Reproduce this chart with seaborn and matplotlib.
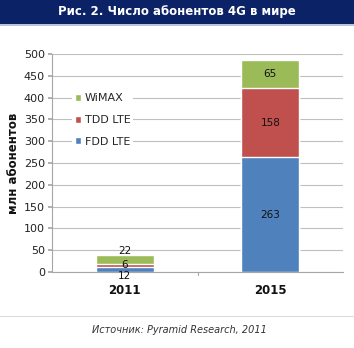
import matplotlib
matplotlib.use("Agg")
import matplotlib.pyplot as plt
import seaborn as sns
import pandas as pd
import numpy as np
from matplotlib.patches import Rectangle

years = ["2011", "2015"]
fdd_lte = [12, 263]
tdd_lte = [6, 158]
wimax = [22, 65]
series_names = ["FDD LTE", "TDD LTE", "WiMAX"]
colors = ["#4F81BD", "#C0504D", "#9BBB59"]
title = "Рис. 2. Число абонентов 4G в мире"
ylabel = "млн абонентов"
source = "Источник: Pyramid Research, 2011"

sns.set_theme(style="white")
plt.rcParams['font.family'] = ['DejaVu Sans']

fig = plt.figure(figsize=(3.54, 3.48), dpi=100)
# title bar
fig.patches.append(Rectangle((0, 1 - 24/348), 1, 24/348, transform=fig.transFigure,
                             facecolor="#0B2266", edgecolor="none", zorder=0))
fig.patches.append(Rectangle((0, 1 - 26/348), 1, 2/348, transform=fig.transFigure,
                             facecolor="#B8C4DD", edgecolor="none", zorder=0))
fig.text(0.5, 1 - 12/348, title, color="white", fontsize=8.5, fontweight="bold",
         ha="center", va="center")

ax = fig.add_axes([52/354, 1 - 272/348, 291/354, 218/348])

series = [fdd_lte, tdd_lte, wimax]
cum = np.cumsum(np.array(series), axis=0)
# draw tallest (cumulative) first so lower segments sit on top
for i in range(len(series) - 1, -1, -1):
    sns.barplot(x=years, y=cum[i], color=colors[i], width=0.4,
                ax=ax, saturation=1)

offsets_2011 = [-5, 0, 6]
bottoms = np.zeros(len(years))
for i, (vals, off) in enumerate(zip(series, offsets_2011)):
    for j, v in enumerate(vals):
        yc = bottoms[j] + v / 2
        dy = off if j == 0 else 0
        ax.annotate(str(v), (j, yc), xytext=(0, dy), textcoords="offset points",
                    ha="center", va="center", fontsize=7.5, color="#111111", zorder=20)
    bottoms = bottoms + np.array(vals)

ax.set_xlim(-0.5, 1.5)
ax.set_ylim(0, 500)
ax.set_yticks(range(0, 501, 50))
ax.yaxis.grid(True, color="#BFBFBF", linewidth=0.8)
ax.set_axisbelow(True)
for s in ["top", "right"]:
    ax.spines[s].set_visible(False)
for s in ["left", "bottom"]:
    ax.spines[s].set_color("#A6A6A6")
    ax.spines[s].set_linewidth(0.8)
ax.tick_params(axis="y", labelsize=8, colors="#A6A6A6", labelcolor="#222222",
               length=3, direction="out", left=True, pad=2)
ax.set_xticks([0, 1])
ax.set_xticklabels(years, fontweight="bold", fontsize=8.5, color="#111111")
ax.tick_params(axis="x", length=0, pad=9)
ax.plot([0.5, 0.5], [0, -8], color="#A6A6A6", lw=0.8, clip_on=False)
ax.set_xlabel("")
ax.set_ylabel(ylabel, fontsize=8.5, fontweight="bold", labelpad=3, color="#111111")

handles = [Rectangle((0, 0), 1, 1, facecolor=c) for c in colors]
leg = ax.legend(handles[::-1], series_names[::-1], loc="upper left",
                bbox_to_anchor=(0.07, 0.83), frameon=True, fontsize=8,
                handlelength=0.6, handleheight=0.6, handletextpad=0.3,
                labelspacing=1.05, borderpad=0.2, borderaxespad=0)
leg.get_frame().set_facecolor("white")
leg.get_frame().set_edgecolor("none")
leg.get_frame().set_alpha(1)
leg.set_zorder(15)

# bottom separator line
fig.add_artist(plt.Line2D([0, 1], [1 - 316/348, 1 - 316/348], color="#DDDDDD", lw=0.8,
                          transform=fig.transFigure))
fig.text(92/354, 1 - 330/348, source, fontsize=7, style="italic", color="#333333",
         ha="left", va="center")

fig.savefig("out.png", dpi=100)
